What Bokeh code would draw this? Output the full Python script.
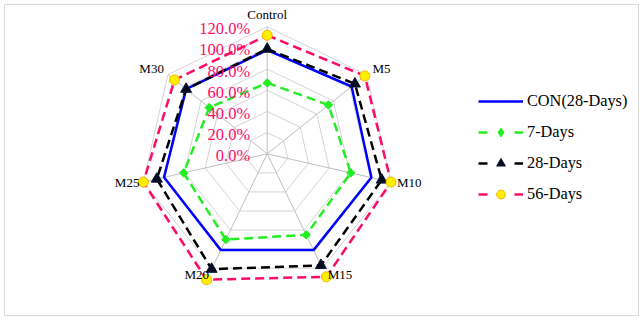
import math
from bokeh.plotting import figure
from bokeh.models import Range1d, ColumnDataSource, Legend, LegendItem
from bokeh.core.properties import value
from bokeh.embed import file_html
from bokeh.resources import INLINE

# ---------------- data ----------------
categories = ["Control", "M5", "M10", "M15", "M20", "M25", "M30"]
con_28_days = [98, 102, 101, 101, 101, 100, 98]
days_7 = [67, 74, 81, 85, 90, 81, 70]
days_28 = [99, 106, 111, 117, 121, 107, 98]
days_56 = [112, 118, 120, 129, 132, 120, 112]
ring_values = [20, 40, 60, 80, 100, 120]
tick_values = [0, 20, 40, 60, 80, 100, 120]
tick_labels = ["0.0%", "20.0%", "40.0%", "60.0%", "80.0%", "100.0%", "120.0%"]
series_names = ["CON(28-Days)", "7-Days", "28-Days", "56-Days"]

# ---------------- layout ----------------
W, H = 640, 317
BL, BT, BR, BB = 4, 4, 2, 2          # border offsets -> frame = chart border
FW, FH = W - BL - BR, H - BT - BB
K = 127.0 / 120.0                    # pixels per percent
CX, CY = 262.7, 149.3                # radar centre in frame pixels
R_MAX = tick_values[-1]
FONT = value("Liberation Serif")
PINK = "#ff0a68"

n = len(categories)
angles = [2 * math.pi * i / n for i in range(n)]


def polar(vals):
    xs = [v * math.sin(a) for v, a in zip(vals, angles)]
    ys = [v * math.cos(a) for v, a in zip(vals, angles)]
    return xs, ys


p = figure(width=W, height=H,
           x_range=Range1d(-CX / K, (FW - CX) / K),
           y_range=Range1d(-(FH - CY) / K, CY / K),
           output_backend="svg", toolbar_location=None,
           x_axis_type=None, y_axis_type=None,
           min_border_left=BL, min_border_top=BT,
           min_border_right=BR, min_border_bottom=BB)
p.outline_line_color = "#d9d9d9"
p.outline_line_width = 1
p.background_fill_color = "white"
p.border_fill_color = "white"

# rings
ring_xs, ring_ys = [], []
for rv in ring_values:
    xs, ys = polar([rv] * n)
    ring_xs.append(xs + [xs[0]])
    ring_ys.append(ys + [ys[0]])
p.multi_line(ring_xs, ring_ys, line_color="#d4d4d4", line_width=1)

# spokes
sx, sy = polar([R_MAX] * n)
p.segment(x0=[0] * n, y0=[0] * n, x1=sx, y1=sy, line_color="#bfbfbf", line_width=1)


def closed(vals):
    xs, ys = polar(vals)
    return xs + [xs[0]], ys + [ys[0]], xs, ys


bx, by, _, _ = closed(con_28_days)
p.line(bx, by, line_color="#0000ff", line_width=2.5)

gx, gy, gpx, gpy = closed(days_7)
p.line(gx, gy, line_color="#22ee22", line_width=2.5, line_dash="9 5")
p.scatter(gpx, gpy, marker="square", angle=math.pi / 4, size=6,
          fill_color="#22ee22", line_color="#22ee22")

kx, ky, kpx, kpy = closed(days_28)
p.line(kx, ky, line_color="#000000", line_width=2.5, line_dash="9 5")
p.scatter(kpx, kpy, marker="triangle", size=11,
          fill_color="#050a1e", line_color="#0c1633")

yx, yy, ypx, ypy = closed(days_56)
p.line(yx, yy, line_color=PINK, line_width=2.5, line_dash="9 5")
p.scatter(ypx, ypy, marker="circle", size=10,
          fill_color="#ffee00", line_color="#f5b400", line_width=1)

# radial tick labels
p.text(x=[0] * len(tick_values), y=tick_values, text=tick_labels,
       text_align="right", text_baseline="middle", x_offset=-17, y_offset=2,
       text_font=FONT, text_font_size="16.5px", text_color=PINK)

# category labels at the outer ring
lx, ly = polar([R_MAX] * n)
aligns, xo, yo = [], [], []
for a in angles:
    s, c = math.sin(a), math.cos(a)
    if abs(s) < 0.1:
        aligns.append("center"); xo.append(0); yo.append(-12)
    elif s > 0:
        aligns.append("left"); xo.append(6 - 0.5 * (c < -0.5)); yo.append(-1 - 8 * c)
    else:
        aligns.append("right"); xo.append(-4 + 1 * (c < -0.5)); yo.append(-1 - 8 * c)
cat_src = ColumnDataSource(dict(x=lx, y=ly, text=categories, align=aligns, xo=xo, yo=yo))
p.text(x="x", y="y", text="text", source=cat_src, text_align="align",
       x_offset="xo", y_offset="yo", text_baseline="middle",
       text_font=FONT, text_font_size="13px", text_color="#000000")

# legend proxies (placed outside the visible range)
OFF = [-5000, -4999]
LEG_DASH = "9 27"
l_blue = p.line(x=OFF, y=OFF, line_color="#0000ff", line_width=2.5)
l_green = p.line(x=OFF, y=OFF, line_color="#22ee22", line_width=2.5, line_dash=LEG_DASH)
m_green = p.scatter(x=OFF[:1], y=OFF[:1], marker="diamond", fill_color="#22ee22", line_color="#22ee22")
l_black = p.line(x=OFF, y=OFF, line_color="#000000", line_width=2.5, line_dash=LEG_DASH)
m_black = p.scatter(x=OFF[:1], y=OFF[:1], marker="triangle", fill_color="#050a1e", line_color="#0c1633")
l_pink = p.line(x=OFF, y=OFF, line_color=PINK, line_width=2.5, line_dash=LEG_DASH)
m_pink = p.scatter(x=OFF[:1], y=OFF[:1], marker="circle", fill_color="#ffee00", line_color="#f5b400")

legend = Legend(items=[
    LegendItem(label=series_names[0], renderers=[l_blue]),
    LegendItem(label=series_names[1], renderers=[l_green, m_green]),
    LegendItem(label=series_names[2], renderers=[l_black, m_black]),
    LegendItem(label=series_names[3], renderers=[l_pink, m_pink]),
], location=(474, 110), orientation="vertical")
legend.glyph_width = 45
legend.glyph_height = 22
legend.label_height = 22
legend.spacing = 9
legend.padding = 0
legend.margin = 0
legend.label_standoff = 4
legend.border_line_color = None
legend.background_fill_alpha = 0
legend.label_text_font = "Liberation Serif"
legend.label_text_font_size = "16.3px"
legend.label_text_color = "#000000"
p.add_layout(legend)

open("out.html", "w").write(file_html(p, INLINE))
